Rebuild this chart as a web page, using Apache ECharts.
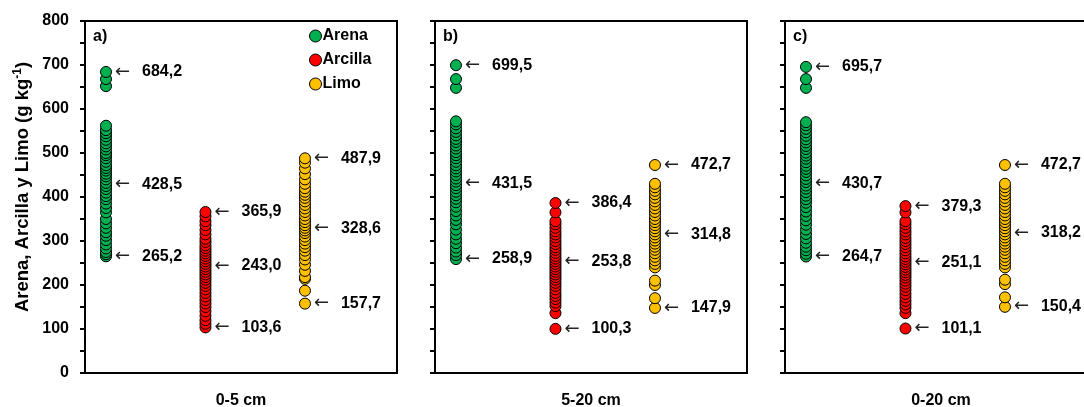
<!DOCTYPE html>
<html>
<head>
<meta charset="utf-8">
<script src="https://cdn.jsdelivr.net/npm/echarts@6/dist/echarts.min.js"></script>
<style>html,body{margin:0;padding:0;background:#fff}#c{width:1084px;height:407px}</style>
</head>
<body>
<div id="c"></div>
<script>
// ---- data ----
var panelNames = ['0-5 cm', '5-20 cm', '0-20 cm'];
var panelLetters = ['a)', 'b)', 'c)'];
var seriesNames = ['Arena', 'Arcilla', 'Limo'];
var yTicks = [0, 100, 200, 300, 400, 500, 600, 700, 800];

var arenaA = [684.2, 668, 652, 562, 552, 545, 538, 530, 522, 515, 508, 500, 495, 488, 480, 472, 466, 460, 453, 447, 440, 432, 425, 418, 410, 402, 395, 385, 375, 365, 350, 340, 330, 320, 312, 302, 292, 283, 275, 270, 265.2];
var arenaB = [699.5, 668, 648, 572, 565, 556, 548, 540, 532, 525, 517, 510, 502, 495, 488, 480, 472, 465, 458, 450, 442, 435, 427, 420, 412, 404, 396, 388, 378, 368, 358, 348, 338, 326, 315, 305, 295, 285, 276, 268, 258.9];
var arenaC = [695.7, 668, 648, 570, 563, 555, 547, 539, 531, 524, 516, 509, 501, 494, 487, 479, 471, 464, 457, 449, 441, 434, 426, 419, 411, 403, 395, 387, 377, 367, 357, 347, 337, 326, 316, 306, 296, 287, 279, 271, 264.7];

var arcillaA = [365.9, 356, 345, 336, 325, 315, 305, 298, 290, 284, 278, 272, 266, 260, 254, 248, 242, 236, 230, 224, 218, 212, 205, 198, 190, 182, 174, 166, 158, 150, 140, 130, 120, 112, 103.6];
var arcillaB = [386.4, 365, 345, 338, 330, 322, 315, 308, 300, 293, 286, 280, 273, 266, 260, 254, 248, 242, 236, 230, 224, 218, 212, 205, 198, 190, 182, 175, 168, 160, 152, 136, 100.3];
var arcillaC = [379.3, 365, 345, 338, 330, 322, 315, 307, 300, 293, 286, 279, 272, 265, 259, 253, 247, 241, 235, 229, 223, 217, 210, 203, 196, 188, 180, 172, 164, 156, 148, 136, 101.1];

var limoA = [487.9, 478, 465, 452, 440, 430, 420, 412, 405, 398, 390, 382, 374, 366, 358, 350, 343, 336, 330, 324, 318, 310, 302, 294, 286, 278, 268, 258, 246, 232, 218, 214, 187, 157.7];
var limoB = [472.7, 430, 422, 414, 406, 398, 390, 382, 374, 366, 358, 350, 343, 336, 329, 322, 315, 308, 301, 294, 287, 280, 272, 264, 256, 248, 240, 210, 200, 170, 147.9];
var limoC = [472.7, 430, 422, 414, 406, 398, 390, 382, 374, 366, 358, 350, 343, 336, 329, 322, 315, 308, 301, 294, 287, 280, 272, 264, 256, 248, 240, 212, 202, 172, 150.4];

// max, mean, min per panel
var arenaStats = [[684.2, 428.5, 265.2], [699.5, 431.5, 258.9], [695.7, 430.7, 264.7]];
var arcillaStats = [[365.9, 243.0, 103.6], [386.4, 253.8, 100.3], [379.3, 251.1, 101.1]];
var limoStats = [[487.9, 328.6, 157.7], [472.7, 314.8, 147.9], [472.7, 318.2, 150.4]];

var colors = ['#00b050', '#ff0000', '#ffc000'];
// ---- build ----
var values = [[arenaA, arcillaA, limoA], [arenaB, arcillaB, limoB], [arenaC, arcillaC, limoC]];
var stats = [arenaStats, arcillaStats, limoStats];
var FONT = '"Liberation Sans", Arial, sans-serif';
var lefts = [85, 435, 785];

var grids = [], xAxes = [], yAxes = [], series = [], titles = [];
for (var p = 0; p < 3; p++) {
  grids.push({left: lefts[p], top: 21, width: 312, height: 352, outerBoundsMode: 'none', containLabel: false,
    show: true, borderColor: '#000', borderWidth: 2, backgroundColor: 'transparent'});
  xAxes.push({type: 'value', gridIndex: p, min: 0.789, max: 3.925, axisLine: {show: false}, axisTick: {show: false},
    axisLabel: {show: false}, splitLine: {show: false},
    name: panelNames[p], nameLocation: 'middle', nameGap: 20,
    nameTextStyle: {fontFamily: FONT, fontWeight: 'bold', fontSize: 16, color: '#000'}});
  var ya = {type: 'value', gridIndex: p, min: yTicks[0], max: yTicks[yTicks.length - 1], interval: yTicks[1] - yTicks[0],
    axisLine: {show: true, lineStyle: {color: '#000', width: 2}},
    axisTick: {show: true, inside: false, length: 5, lineStyle: {color: '#000', width: 2}},
    minorTick: {show: true, splitNumber: 2, length: 5, lineStyle: {color: '#000', width: 2}},
    splitLine: {show: false},
    axisLabel: {show: p === 0, margin: 16, fontFamily: FONT, fontWeight: 'bold', fontSize: 16, color: '#000'}};
  if (p === 0) {
    ya.name = 'Arena, Arcilla y Limo (g kg{sup|-1})';
    ya.nameLocation = 'middle';
    ya.nameRotate = 90;
    ya.nameGap = 51;
    ya.nameTextStyle = {fontFamily: FONT, fontWeight: 'bold', fontSize: 18.5, color: '#000', padding: [0, 0, 0, 20],
      rich: {sup: {fontFamily: FONT, fontWeight: 'bold', fontSize: 12, color: '#000', padding: [0, 0, 10, 0]}}};
  }
  yAxes.push(ya);
  titles.push({text: panelLetters[p], left: lefts[p] + 8, top: 29, padding: 0,
    textStyle: {fontFamily: FONT, fontWeight: 'bold', fontSize: 16, color: '#000'}});
  for (var s = 0; s < 3; s++) {
    series.push({type: 'scatter', name: seriesNames[s], xAxisIndex: p, yAxisIndex: p,
      symbol: 'circle', symbolSize: 11,
      itemStyle: {color: colors[s], borderColor: '#000', borderWidth: 1, opacity: 1},
      data: values[p][s].map(function (v) { return [s + 1, v]; }).reverse(),
      emphasis: {disabled: true}, animation: false, z: 3});
    var st = stats[s][p];
    series.push({type: 'scatter', xAxisIndex: p, yAxisIndex: p, symbol: 'circle', symbolSize: 0,
      silent: true, animation: false, z: 4, itemStyle: {opacity: 1},
      data: st.map(function (v) { return [s + 1, v]; }),
      label: {show: true, position: 'right', distance: 9, color: '#000', fontFamily: FONT, fontWeight: 'bold', fontSize: 16,
        textBorderWidth: 0,
        formatter: function (prm) { return '{a|\u2190}{v|' + prm.value[1].toFixed(1).replace('.', ',') + '}'; },
        rich: {
          a: {fontFamily: 'DejaVu Sans', fontWeight: 'normal', fontSize: 18, color: '#222', width: 27, textBorderWidth: 0},
          v: {fontFamily: FONT, fontWeight: 'bold', fontSize: 16, color: '#000', textBorderWidth: 0}
        }}});
  }
}

var chart = echarts.init(document.getElementById('c'), null, {renderer: 'canvas'});
chart.setOption({
  animation: false,
  backgroundColor: '#fff',
  title: titles,
  legend: {data: seriesNames, orient: 'vertical', left: 304, top: 23, itemGap: 8,
    itemWidth: 12, itemHeight: 12, icon: 'circle', itemStyle: {borderColor: '#000', borderWidth: 1},
    textStyle: {fontFamily: FONT, fontWeight: 'bold', fontSize: 16, color: '#000', padding: [0, 0, 0, -4]}},
  grid: grids,
  xAxis: xAxes,
  yAxis: yAxes,
  series: series
});
</script>
</body>
</html>
